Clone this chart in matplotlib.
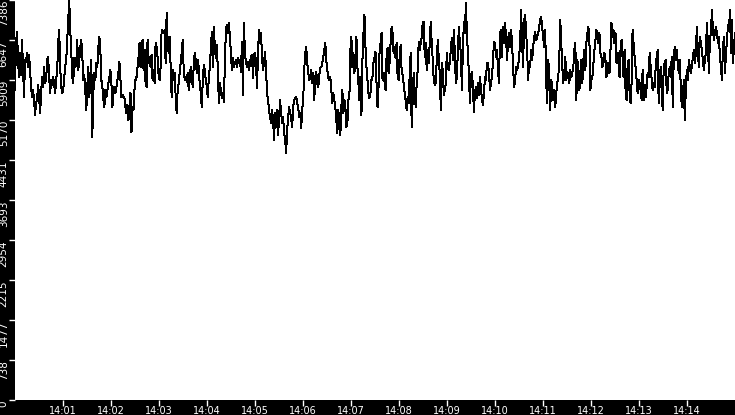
import matplotlib
matplotlib.use("Agg")
import matplotlib.pyplot as plt
import matplotlib.dates as mdates
import pandas as pd
import numpy as np

seg1 = [5724, 6610, 6795, 6277, 5964, 6407, 6001, 6647, 6093, 5595,
        6277, 6241, 6407, 6149, 6370, 6093, 5780, 5595, 5724, 5540,
        5263, 5484, 5540, 5817, 5595, 5300, 5669, 5964, 5780, 6149,
        5853, 5909, 6277, 6334, 5964, 5669, 5909, 5817, 5964, 5817,
        5669, 5909, 6093, 6592, 6832, 6149, 5780, 5669, 5724, 5964,
        6149, 6277, 6647, 7017, 7386, 6832, 6463, 5964, 5853, 6315,
        6149, 6223, 6647, 6093, 6277, 6518, 6647, 6370, 5909, 6001,
        5724, 5355, 5780, 6149, 5595, 5909, 6277, 4856, 5669, 6038,
        5909, 6223, 6149, 6518, 6703, 6463, 5909, 5780, 5540, 5410,
        5724, 5595, 5724, 5853, 5964, 6093, 5853, 5410, 5780, 5780,
        5669, 5780, 5909, 6057, 6241, 5909, 5595, 5632, 5595, 5576,
        5410, 5300, 5447, 5170, 5410, 5669, 4949, 5410, 5355, 5724,
        5909, 5964, 6149]
seg2 = [6334, 6592, 6149, 6407, 6647, 6093, 6463, 5853, 5780, 6647,
        6223, 6334, 6149, 6370, 5909, 6093, 5853, 6592, 6518, 6334,
        6001, 5909, 6149, 6832, 6795, 6777, 6832, 6223, 7146, 6647,
        6407, 6703, 6149, 5595, 6093, 5909, 6038, 5595, 5300, 5724,
        5853, 6038, 6223, 6407, 6647, 6093, 5909, 5964, 5872, 6038,
        5724, 5909, 6149, 6001, 5780, 6186, 6407, 6277, 6038, 6277,
        6149, 5817, 5669, 5410, 5909, 6186, 6093, 5909, 5780, 5595,
        5964, 6149, 6463, 6795, 6149, 6887, 6518, 6315, 6555, 6093,
        5484, 5853, 5724, 5576, 5669, 5503, 6223, 6832, 6924, 6777,
        6961, 6703, 6407, 6093, 6315, 6149, 6223, 6277, 6149, 6315,
        6223, 6277, 6057, 6610, 5632, 6961, 6370, 6241, 6149, 6241,
        6093, 6223, 6334, 6370, 5946, 6370, 6407, 6223, 5761, 6407]
seg3 = [6832, 6592, 6777, 6334, 6093, 6223, 6426, 6093, 5669, 5540,
        5355, 5226, 5115, 5355, 5170, 4801, 5300, 5041, 5355, 4893,
        5226, 5540, 5300, 5115, 5226, 4930, 4801, 4561, 4986, 5226,
        5410, 5300, 5207, 5041, 5410, 5540, 5576, 5595, 5484, 5410,
        5226, 5300, 5022, 5355, 5540, 6093, 6407, 6518, 6223, 6038,
        5909, 5964, 6093, 5853, 6038, 5540, 5964, 6057, 5853, 5780,
        6001, 6130, 6149, 6223, 6334, 6463, 6592, 6277, 6093, 5946,
        5909, 5964, 5724, 5484, 5669, 5540, 5410, 5170, 4930, 5355,
        5041, 4893, 5410, 5724, 5300, 5540, 5410, 5041, 5115, 5540,
        5595, 6463, 6703, 6149, 6407, 6038, 6277, 6703, 6149, 5853,
        5540, 5964, 5263, 6277, 6777, 7109, 6518, 6149, 5909, 5669,
        5576, 5669, 5909, 5964, 6223, 6315, 6426, 5853, 5410, 5780]
seg4 = [6407, 6592, 6777, 5909, 6038, 5872, 5724, 6334, 6500, 6038,
        6223, 6592, 6887, 6777, 6407, 6518, 6315, 6592, 5964, 5909,
        6334, 6555, 6093, 6001, 5853, 5669, 5540, 5355, 5595, 5484,
        6001, 6407, 5041, 5540, 6038, 5724, 5410, 5853, 6093, 6610,
        6463, 6592, 6703, 6961, 6980, 6334, 6592, 6093, 6463, 6223,
        6592, 6980, 6592, 6277, 5909, 5817, 5853, 6277, 6647, 6315,
        6038, 5355, 6223, 6093, 5632, 5724, 5853, 6407, 6149, 6093,
        6241, 6463, 6684, 6277, 6832, 6407, 5853, 5964, 6407, 6887,
        6592, 6407, 5724, 6463, 6980, 6777, 7331, 6777, 6407, 6038,
        5484, 5964, 6057, 5780, 5318, 5669, 5780, 5576, 5853, 5632,
        5964, 5761, 5540, 5447, 5669, 5964, 5909, 6223, 6223, 6038,
        5724, 5853, 5964, 6277, 6610, 6592, 6334, 6463, 6093, 5853]
seg5 = [6777, 6832, 6334, 6887, 6592, 6961, 6703, 6277, 6647, 6777,
        6518, 6832, 6592, 6149, 5780, 5909, 6149, 6093, 6149, 6334,
        6592, 7201, 6592, 6149, 7017, 7109, 6777, 6463, 5909, 6223,
        6149, 6463, 6277, 6518, 6684, 6795, 6647, 6703, 6777, 6887,
        7017, 7072, 6887, 6703, 6518, 6832, 5853, 5484, 6277, 6038,
        5355, 5909, 5780, 5540, 5724, 5410, 5669, 5853, 5964, 6277,
        7017, 6592, 6149, 5853, 6038, 6334, 5909, 6057, 5964, 5853,
        6093, 5964, 6038, 6149, 6463, 6592, 5540, 6277, 6149, 5724,
        5909, 6277, 5853, 6277, 6463, 6093, 6592, 6777, 6887, 6647,
        5724, 5909, 5964, 6223, 6463, 6647, 6832, 6703, 6592, 6777,
        6407, 6334, 6149, 6223, 6407, 6277, 5964, 6093, 6223, 6038,
        6463, 6961, 6703, 6832, 6592, 6777, 6223, 6407, 6277, 5964]
seg6 = [6463, 6647, 6334, 5964, 6463, 5724, 5540, 6149, 6277, 5669,
        5484, 5853, 6832, 6592, 6334, 6149, 5909, 5669, 5909, 5853,
        5724, 5540, 6093, 5540, 5817, 5595, 5780, 6038, 5964, 6407,
        6149, 5909, 5724, 5853, 5780, 6149, 6334, 6463, 5484, 5909,
        6149, 5669, 5355, 6149, 6223, 6277, 5669, 5724, 6038, 6149,
        5964, 6334, 5410, 6334, 6518, 6277, 6463, 6223, 6038, 6277,
        5780, 5410, 5540, 5909, 5170, 5724, 6093, 5909, 6277, 6149,
        6038, 6149, 6334, 6463, 6223, 6407, 6887, 6463, 6149, 6703,
        6592, 6463, 6277, 6093, 6277, 6407, 6961, 6592, 6038, 6647,
        6777, 7201, 6832, 6647, 6777, 6887, 6777, 6592, 6703, 6334,
        6149, 5909, 6518, 6703, 6038, 6407, 6647, 6924, 6832, 7201,
        6407, 7017, 6223, 6518, 6777]

values = seg1 + seg2 + seg3 + seg4 + seg5 + seg6
t_start = "2024-01-01 14:00:00"
t_end = "2024-01-01 14:15:00"
times = pd.date_range(t_start, t_end, periods=len(values))

y_max = 7386
y_ticks = [0, 738, 1477, 2215, 2954, 3693, 4431, 5170, 5909, 6647, 7386]
y_tick_labels = ["0", "738", "1477", "2215", "2954", "3693", "4431",
                 "5170", "5909", "6647", "7386"]

W, H = 735, 415
fig = plt.figure(figsize=(W / 100, H / 100), dpi=100, facecolor="black")
ax = fig.add_axes([15 / W, 15 / H, 720 / W, 400 / H])
ax.set_facecolor("white")
ax.plot(times, values, color="black", lw=0.72, antialiased=False)

ax.set_xlim(pd.Timestamp(t_start), pd.Timestamp(t_end))
ax.set_ylim(0, y_max)
ax.set_yticks(y_ticks)
ax.set_yticklabels(y_tick_labels)
ax.xaxis.set_major_locator(mdates.MinuteLocator(byminute=range(1, 15)))
ax.xaxis.set_major_formatter(mdates.DateFormatter("%H:%M"))

for s in ax.spines.values():
    s.set_visible(False)

ax.tick_params(axis="both", colors="white", length=4, width=1,
               direction="out")
ax.tick_params(axis="x", labelsize=7, pad=0.5)
ax.tick_params(axis="y", labelsize=7.5, pad=0.5)
for lbl in ax.get_yticklabels():
    lbl.set_rotation(90)
    lbl.set_va("top")
    lbl.set_ha("right")

fig.savefig("out.png", dpi=100, facecolor="black")
